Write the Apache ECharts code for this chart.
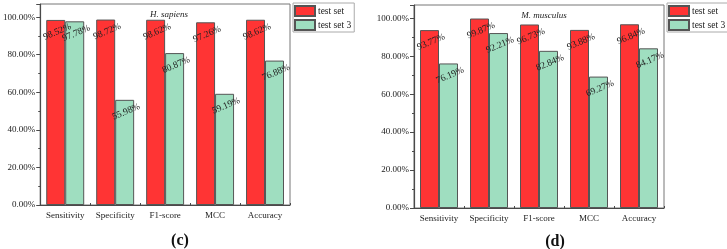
<!DOCTYPE html>
<html>
<head>
<meta charset="utf-8">
<script src="https://cdn.jsdelivr.net/npm/echarts@6/dist/echarts.min.js"></script>
<style>
  html, body { margin: 0; padding: 0; background: #fff; }
  #main { width: 727px; height: 249px; }
</style>
</head>
<body>
<div id="main"></div>
<script>
// categories and values (percent)
var categories = ['Sensitivity', 'Specificity', 'F1-score', 'MCC', 'Accuracy']
var yTicks = [0, 20, 40, 60, 80, 100]
var seriesNames = ['test set', 'test set 3']

// panel (c) H. sapiens
var sapiensTest = [98.52, 98.72, 98.62, 97.26, 98.62]
var sapiensTest3 = [97.78, 55.98, 80.87, 59.19, 76.88]

// panel (d) M. musculus
var musculusTest = [93.77, 99.87, 96.73, 93.88, 96.84]
var musculusTest3 = [76.19, 92.21, 82.84, 69.27, 84.17]

var FONT = '"Liberation Serif", "DejaVu Serif", serif'
var RED = '#ff3434'
var GREEN = '#9fdec0'
var AXIS = '#4a4a4a'

var myChart = echarts.init(document.getElementById('main'))

function xAxis(i) {
  return {
    type: 'category', gridIndex: i, data: categories,
    axisLine: { lineStyle: { color: AXIS, width: 1.2 } },
    axisTick: { show: true, inside: true, length: 2, lineStyle: { color: AXIS } },
    axisLabel: { interval: 0, color: '#222', fontFamily: FONT, fontSize: 9, margin: 6 }
  }
}

function yAxis(i) {
  return {
    type: 'value', gridIndex: i, min: 0, max: 107, interval: 20,
    axisLine: { show: true, lineStyle: { color: AXIS, width: 1.2 } },
    axisTick: { show: true, length: 4, lineStyle: { color: AXIS } },
    minorTick: { show: true, splitNumber: 2, length: 2, lineStyle: { color: AXIS } },
    splitLine: { show: false },
    axisLabel: {
      color: '#222', fontFamily: FONT, fontSize: 9, margin: 5,
      formatter: function (v) { return yTicks.indexOf(v) >= 0 ? v.toFixed(2) + '%' : '' }
    }
  }
}

function barSeries(name, data, color, i) {
  return {
    name: name, type: 'bar', xAxisIndex: i, yAxisIndex: i, data: data,
    barGap: 0, barCategoryGap: '24%',
    itemStyle: { color: color, borderColor: '#555', borderWidth: 1 },
    label: {
      show: true, position: ['58%', 12], rotate: 23,
      align: 'center', verticalAlign: 'middle',
      color: '#222', fontFamily: FONT, fontSize: 9.5,
      formatter: function (p) { return p.value.toFixed(2) + '%' }
    }
  }
}

function legend(left) {
  return {
    orient: 'vertical', left: left, top: 3, data: seriesNames,
    icon: 'rect', itemWidth: 20, itemHeight: 10, itemGap: 2, padding: [2, 3, 1, 1],
    borderColor: '#aaa', borderWidth: 1,
    textStyle: { fontFamily: FONT, fontSize: 9.5, color: '#222', padding: [0, 0, 0, -2] }
  }
}

var option = {
  animation: false,
  backgroundColor: '#fff',
  title: [
    { text: 'H. sapiens', left: 164, top: 5, textAlign: 'center',
      textStyle: { fontFamily: FONT, fontStyle: 'italic', fontWeight: 'normal', fontSize: 9, color: '#222' } },
    { text: 'M. musculus', left: 539, top: 6, textAlign: 'center',
      textStyle: { fontFamily: FONT, fontStyle: 'italic', fontWeight: 'normal', fontSize: 9, color: '#222' } },
    { text: '(c)', left: 175, top: 228, textAlign: 'center',
      textStyle: { fontFamily: FONT, fontWeight: 'bold', fontSize: 16, color: '#111' } },
    { text: '(d)', left: 550, top: 229, textAlign: 'center',
      textStyle: { fontFamily: FONT, fontWeight: 'bold', fontSize: 16, color: '#111' } }
  ],
  legend: [legend(293), legend(667)],
  grid: [
    { left: 39, right: 437, top: 4, bottom: 44, show: true, borderColor: '#777', borderWidth: 1 },
    { left: 414, right: 63, top: 5, bottom: 41, show: true, borderColor: '#777', borderWidth: 1 }
  ],
  xAxis: [xAxis(0), xAxis(1)],
  yAxis: [yAxis(0), yAxis(1)],
  series: [
    barSeries(seriesNames[0], sapiensTest, RED, 0),
    barSeries(seriesNames[1], sapiensTest3, GREEN, 0),
    barSeries(seriesNames[0], musculusTest, RED, 1),
    barSeries(seriesNames[1], musculusTest3, GREEN, 1)
  ]
}

myChart.setOption(option)
</script>
</body>
</html>
